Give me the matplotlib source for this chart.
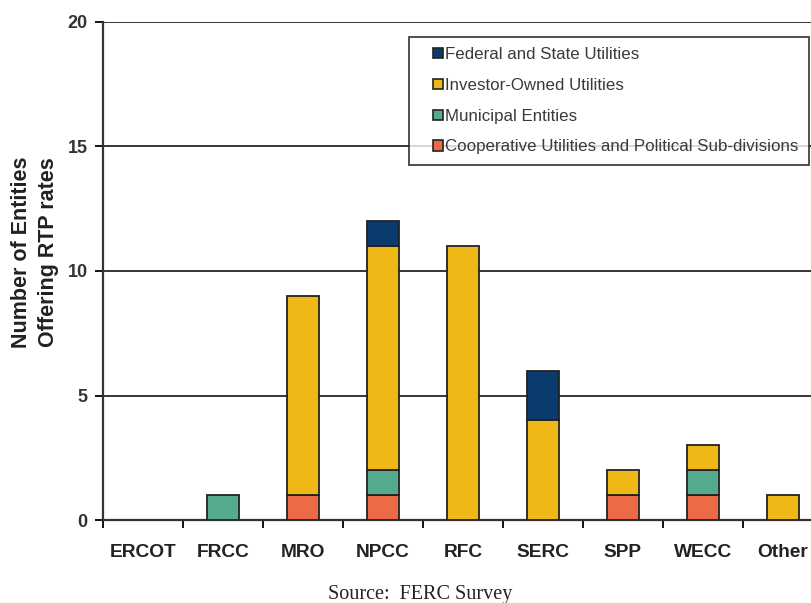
import matplotlib
matplotlib.use('Agg')
from matplotlib import pyplot as plt
from matplotlib.patches import Patch, Rectangle
from matplotlib.legend_handler import HandlerPatch
import numpy as np

plt.rcParams['font.family'] = ['Liberation Sans', 'DejaVu Sans']

regions = ['ERCOT', 'FRCC', 'MRO', 'NPCC', 'RFC', 'SERC', 'SPP', 'WECC', 'Other']
coop = [0, 0, 1, 1, 0, 0, 1, 1, 0]
municipal = [0, 1, 0, 1, 0, 0, 0, 1, 0]
investor = [0, 0, 8, 9, 11, 4, 1, 1, 1]
federal = [0, 0, 0, 1, 0, 2, 0, 0, 0]

series = [
    ('Cooperative Utilities and Political Sub-divisions', coop, '#ec6a45'),
    ('Municipal Entities', municipal, '#55ab8e'),
    ('Investor-Owned Utilities', investor, '#f0b816'),
    ('Federal and State Utilities', federal, '#0b3a6c'),
]

fig = plt.figure(figsize=(8.12, 6.03), dpi=100)
ax = fig.add_axes([0.1268, 0.1376, 0.8867, 0.826])

x = np.arange(len(regions))
bottom = np.zeros(len(regions))
for name, vals, col in series:
    vals = np.array(vals, dtype=float)
    b = ax.bar(x, vals, 0.41, bottom=bottom, color=col, edgecolor='#222222',
               linewidth=1.3, zorder=3)
    # empty segments should not leave an outline on the baseline
    for p, v in zip(b.patches, vals):
        if v == 0:
            p.set_visible(False)
    bottom += vals

# horizontal grid
for yv in [5, 10, 15, 20]:
    ax.axhline(yv, color='black', lw=1.1, zorder=1)

ax.set_xlim(-0.5, 8.5)
ax.set_ylim(0, 20)
ax.set_yticks([0, 5, 10, 15, 20])
ax.set_yticklabels(['0', '5', '10', '15', '20'], fontsize=13, fontweight='bold', color='#333333')
ax.tick_params(axis='y', direction='out', length=6, width=1.3, pad=5)

ax.set_xticks(x)
ax.set_xticklabels(regions, fontsize=13.8, fontweight='bold', color='#222222')
ax.tick_params(axis='x', length=0, pad=17)
ax.set_xticks(np.arange(-0.5, 9, 1), minor=True)
ax.tick_params(axis='x', which='minor', direction='out', length=6, width=1.3)

ax.spines['top'].set_visible(False)
ax.spines['right'].set_visible(False)
ax.spines['left'].set_linewidth(1.6)
ax.spines['bottom'].set_linewidth(1.6)
ax.spines['left'].set_color('#333333')
ax.spines['bottom'].set_color('#333333')

ax.set_ylabel('Number of Entities\nOffering RTP rates', fontsize=15.5, fontweight='bold',
              color='#222222', linespacing=1.4)
ax.yaxis.set_label_coords(-0.061, 0.537)


# small square swatch sitting at the right end of the handle box
def square(legend, orig_handle, xdescent, ydescent, width, height, fontsize):
    sz = 0.6 * fontsize
    return Rectangle((width - sz - xdescent, -ydescent + (height - sz) / 2), sz, sz)


proxies = [Patch(facecolor=c, edgecolor='#222222', linewidth=1.2) for _, _, c in series]
leg = ax.legend(proxies[::-1], [s[0] for s in series][::-1], loc='upper right',
                bbox_to_anchor=(809 / 812, 1 - 37 / 603), bbox_transform=fig.transFigure,
                borderaxespad=0, fontsize=12.2, frameon=True, fancybox=False,
                handler_map={Patch: HandlerPatch(patch_func=square)},
                handlelength=1.4, handleheight=0.7, handletextpad=0.15,
                labelspacing=0.93, borderpad=0.6, edgecolor='#222222')
leg.get_frame().set_linewidth(1.4)
leg.set_zorder(5)
for t in leg.get_texts():
    t.set_color('#3a3a3a')

fig.text(0.518, 0.006, 'Source:  FERC Survey', fontsize=14.5, family='Liberation Serif',
         ha='center', color='#222222')

fig.savefig('out.png', dpi=100)
